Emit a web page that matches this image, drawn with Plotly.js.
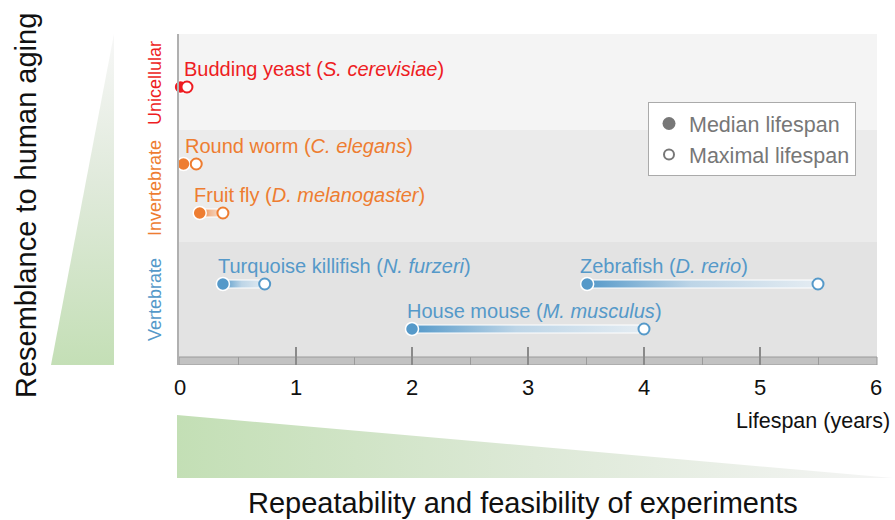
<!DOCTYPE html>
<html>
<head>
<meta charset="utf-8">
<script src="https://cdn.plot.ly/plotly-3.0.1.min.js"></script>
<style>html,body{margin:0;padding:0;background:#fff;}#chart{width:895px;height:520px;}</style>
</head>
<body>
<div id="chart"></div>
<script>
// ---------------- data ----------------
const species = ['Budding yeast', 'Round worm', 'Fruit fly', 'Turquoise killifish', 'Zebrafish', 'House mouse'];
const latinNames = ['S. cerevisiae', 'C. elegans', 'D. melanogaster', 'N. furzeri', 'D. rerio', 'M. musculus'];
const speciesGroup = ['Unicellular', 'Invertebrate', 'Invertebrate', 'Vertebrate', 'Vertebrate', 'Vertebrate'];
const medianLifespan = [0.005, 0.03, 0.17, 0.37, 3.51, 2.0];   // years
const maximalLifespan = [0.06, 0.14, 0.37, 0.73, 5.5, 4.0];    // years
const groupNames = ['Unicellular', 'Invertebrate', 'Vertebrate'];
const xTickVals = [0, 1, 2, 3, 4, 5, 6];
const legendNames = ['Median lifespan', 'Maximal lifespan'];

// ---------------- layout / style ----------------
const W = 895, H = 520;
const plotL = 179, plotR = 877, plotT = 34, plotB = 365;
const pxPerYear = 116;
const xMin = -1 / pxPerYear, xMax = 6 + 1 / pxPerYear;
// vertical row placement (y axis runs in screen-like units, top = 34, bottom = 365)
const rowY = [87, 164, 213, 284, 284, 329];
const groupBands = [[34, 130], [130, 242], [242, 357]];
const bandColors = ['#f4f4f4', '#ebebeb', '#e3e3e3'];
const groupLabelY = [83, 188, 300];
const groupColors = { 'Unicellular': '#ee1d23', 'Invertebrate': '#ee7d31', 'Vertebrate': '#5599c9' };
const fadeColors = { 'Unicellular': '#fbe3e3', 'Invertebrate': '#f5e6dc', 'Vertebrate': '#e4ecf2' };
const midColors = { 'Unicellular': '#f5a0a0', 'Invertebrate': '#f2b993', 'Vertebrate': '#bdd5e7' };
const labelShift = [1, 0, -8, -7, -9, -7];
const FONT = 'Liberation Sans, Arial, sans-serif';

const traces = [];

// decoration triangles on a full-figure overlay axis
traces.push({
  type: 'scatter', mode: 'lines', xaxis: 'x2', yaxis: 'y2',
  x: [114, 114, 51, 114], y: [H - 34, H - 365, H - 365, H - 34],
  fill: 'toself', line: { width: 0, color: 'rgba(0,0,0,0)' },
  fillgradient: { type: 'vertical', start: H - 365, stop: H - 34,
    colorscale: [[0, '#c4dfb6'], [0.55, '#e0eadb'], [1, '#f7f7f7']] },
  hoverinfo: 'skip', showlegend: false
});
traces.push({
  type: 'scatter', mode: 'lines', xaxis: 'x2', yaxis: 'y2',
  x: [177, 177, 893, 177], y: [H - 415, H - 478, H - 478, H - 415],
  fill: 'toself', line: { width: 0, color: 'rgba(0,0,0,0)' },
  fillgradient: { type: 'horizontal', start: 177, stop: 893,
    colorscale: [[0, '#c3dfb5'], [0.5, '#dde9d7'], [1, '#f5f5f5']] },
  hoverinfo: 'skip', showlegend: false
});

// connectors (gradient bars from median to maximal)
const halfBar = 4;
species.forEach((s, i) => {
  const g = speciesGroup[i];
  traces.push({
    type: 'scatter', mode: 'lines',
    x: [medianLifespan[i], maximalLifespan[i], maximalLifespan[i], medianLifespan[i], medianLifespan[i]],
    y: [rowY[i] - halfBar, rowY[i] - halfBar, rowY[i] + halfBar, rowY[i] + halfBar, rowY[i] - halfBar],
    fill: 'toself', line: { color: '#ffffff', width: 1 },
    fillgradient: { type: 'horizontal', start: medianLifespan[i], stop: maximalLifespan[i],
      colorscale: [[0, groupColors[g]], [0.45, midColors[g]], [1, fadeColors[g]]] },
    hoverinfo: 'skip', showlegend: false
  });
});

// median markers
traces.push({
  type: 'scatter', mode: 'markers', x: medianLifespan, y: rowY,
  marker: { size: 13, color: speciesGroup.map(g => groupColors[g]), line: { color: '#ffffff', width: 1.5 } },
  cliponaxis: false, showlegend: false, hoverinfo: 'x'
});
// maximal markers
traces.push({
  type: 'scatter', mode: 'markers', x: maximalLifespan, y: rowY,
  marker: { size: 11, color: '#ffffff', line: { color: speciesGroup.map(g => groupColors[g]), width: 2 } },
  cliponaxis: false, showlegend: false, hoverinfo: 'x'
});

// legend entries (placed off-range on overlay axis)
traces.push({
  type: 'scatter', mode: 'markers', name: legendNames[0], xaxis: 'x2', yaxis: 'y2',
  x: [-100], y: [-100], marker: { size: 13, color: '#777777' }
});
traces.push({
  type: 'scatter', mode: 'markers', name: legendNames[1], xaxis: 'x2', yaxis: 'y2',
  x: [-100], y: [-100], marker: { size: 10, color: '#ffffff', line: { color: '#777777', width: 2 } }
});

const shapes = [];
groupBands.forEach((b, k) => {
  shapes.push({ type: 'rect', xref: 'x domain', yref: 'y', x0: 0, x1: 1, y0: b[0], y1: b[1],
    fillcolor: bandColors[k], line: { width: 0 }, layer: 'below' });
});
// axis strip
shapes.push({ type: 'rect', xref: 'x domain', yref: 'y', x0: 0, x1: 1, y0: 357, y1: 365,
  fillcolor: '#c2c2c2', line: { color: '#9a9a9a', width: 1 }, layer: 'below' });

const annotations = [];
species.forEach((s, i) => {
  annotations.push({
    x: medianLifespan[i], y: rowY[i], xref: 'x', yref: 'y',
    text: s + ' (<i>' + latinNames[i] + '</i>)', showarrow: false,
    xanchor: 'left', yanchor: 'middle', xshift: labelShift[i], yshift: 18,
    font: { family: FONT, size: 20, color: groupColors[speciesGroup[i]] }
  });
});
groupNames.forEach((g, k) => {
  annotations.push({
    x: 155 / W, y: (H - groupLabelY[k]) / H, xref: 'paper', yref: 'paper',
    text: g, textangle: -90, showarrow: false, xanchor: 'center', yanchor: 'middle',
    font: { family: FONT, size: 18, color: groupColors[g] }
  });
});
annotations.push({
  x: 26 / W, y: (H - 206) / H, xref: 'paper', yref: 'paper', text: 'Resemblance to human aging',
  textangle: -90, showarrow: false, xanchor: 'center', yanchor: 'middle',
  font: { family: FONT, size: 29, color: '#111111' }
});
annotations.push({
  x: 523 / W, y: (H - 503) / H, xref: 'paper', yref: 'paper', text: 'Repeatability and feasibility of experiments',
  showarrow: false, xanchor: 'center', yanchor: 'middle',
  font: { family: FONT, size: 29, color: '#111111' }
});
annotations.push({
  x: 892 / W, y: (H - 421) / H, xref: 'paper', yref: 'paper', text: 'Lifespan (years)',
  showarrow: false, xanchor: 'right', yanchor: 'middle',
  font: { family: FONT, size: 21.5, color: '#111111' }
});

const layout = {
  width: W, height: H,
  margin: { l: 0, r: 0, t: 0, b: 0 },
  paper_bgcolor: '#ffffff', plot_bgcolor: 'rgba(0,0,0,0)',
  font: { family: FONT },
  xaxis: {
    domain: [plotL / W, plotR / W], range: [xMin, xMax], tickvals: xTickVals,
    ticks: 'inside', ticklen: 18, tickwidth: 2, tickcolor: '#8a8a8a',
    minor: { dtick: 0.5, tick0: 0, ticks: 'inside', ticklen: 8, tickwidth: 1, tickcolor: '#9a9a9a' },
    showgrid: false, zeroline: false, showline: false,
    tickfont: { family: FONT, size: 22, color: '#111111' }, ticklabelstandoff: 7,
    fixedrange: true
  },
  yaxis: {
    domain: [(H - plotB) / H, (H - plotT) / H], range: [plotB, plotT],
    showticklabels: false, ticks: '', showgrid: false, zeroline: false,
    showline: true, linecolor: '#b0b0b0', linewidth: 2, fixedrange: true
  },
  xaxis2: { domain: [0, 1], range: [0, W], visible: false, fixedrange: true },
  yaxis2: { domain: [0, 1], range: [0, H], visible: false, fixedrange: true, anchor: 'x2' },
  shapes: shapes,
  annotations: annotations,
  showlegend: true,
  legend: {
    x: 648 / W, y: (H - 102) / H, xanchor: 'left', yanchor: 'top',
    bgcolor: '#ffffff', bordercolor: '#aaaaaa', borderwidth: 1,
    font: { family: FONT, size: 21.5, color: '#777777' }, tracegroupgap: 0,
    itemwidth: 30
  }
};

Plotly.newPlot('chart', traces, layout, { displayModeBar: false, staticPlot: true });
</script>
</body>
</html>
